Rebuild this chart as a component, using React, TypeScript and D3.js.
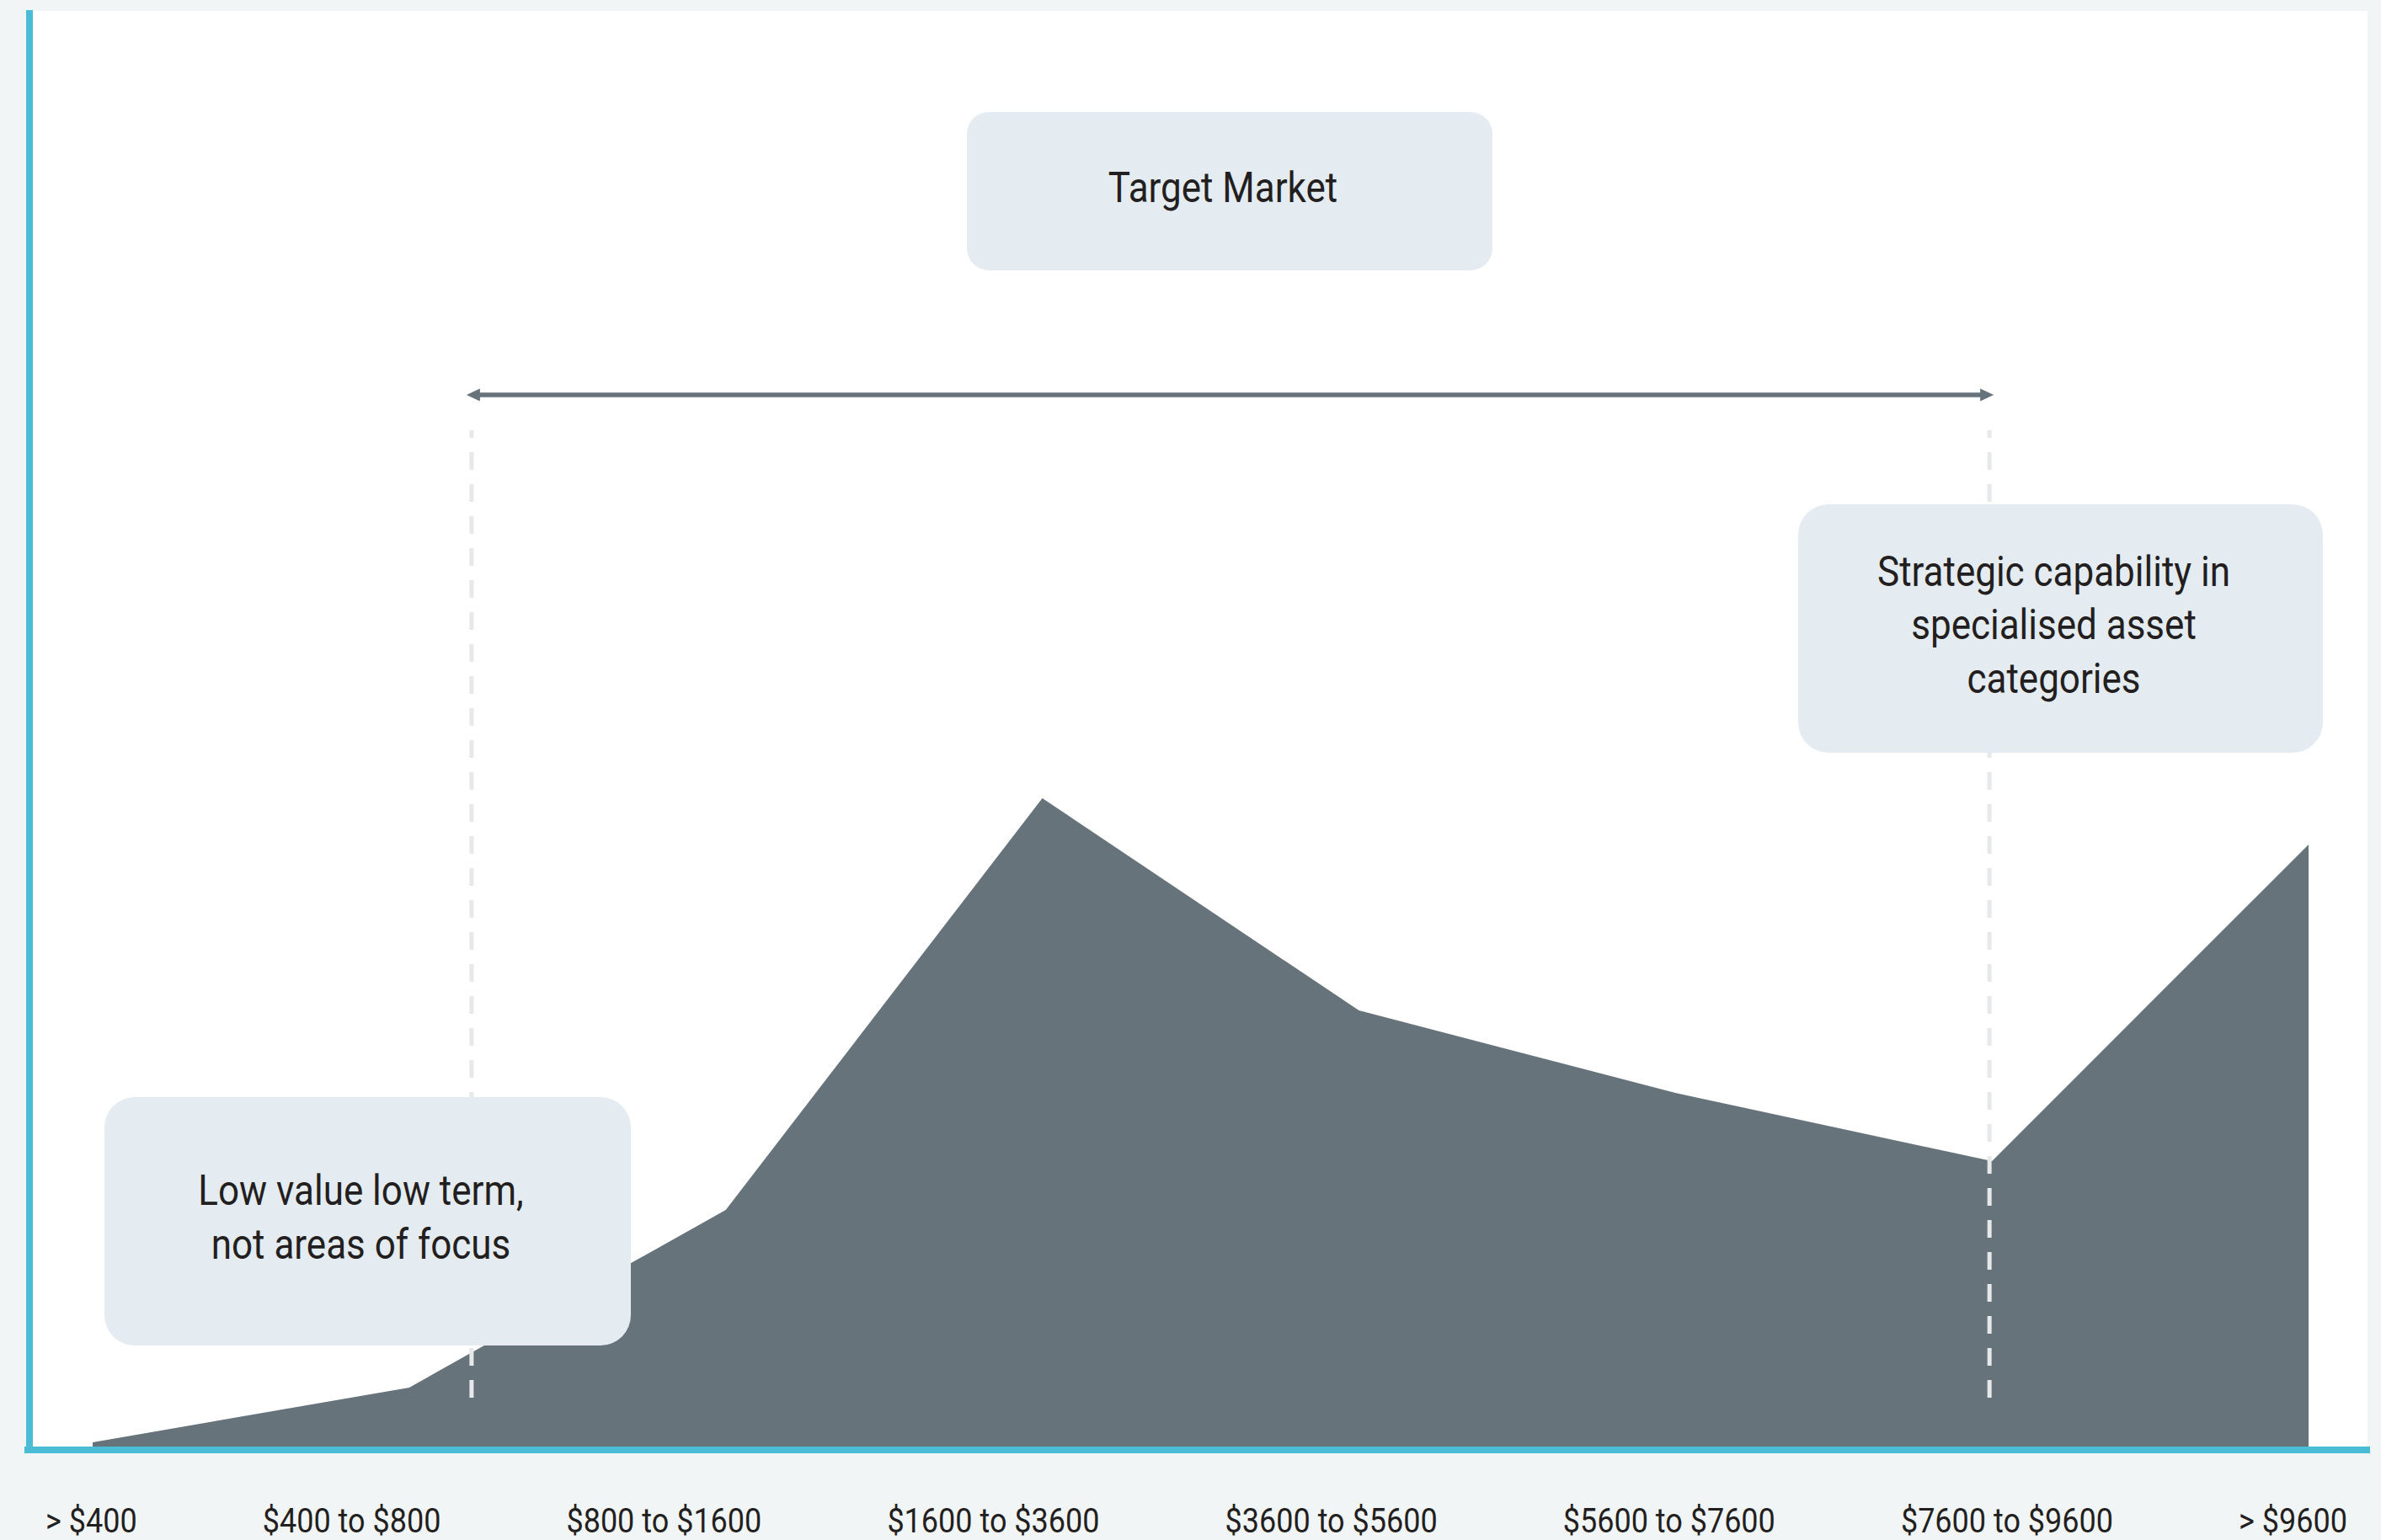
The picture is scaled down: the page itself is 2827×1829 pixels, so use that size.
import React, { useMemo } from "react";
import * as d3 from "d3";

// ---- data ----
const categories = [
  "> $400",
  "$400 to $800",
  "$800 to $1600",
  "$1600 to $3600",
  "$3600 to $5600",
  "$5600 to $7600",
  "$7600 to $9600",
  "> $9600",
];
const values = [0.5, 7, 28.1, 77, 51.8, 42, 33.9, 71.5];

const targetLabel = ["Target Market"];
const lowLabel = ["Low value low term,", "not areas of focus"];
const strategicLabel = ["Strategic capability in", "specialised asset", "categories"];

// ---- layout / style ----
const W = 2827;
const H = 1829;
const BG = "#f1f5f6";
const BLUE = "#4bbcd6";
const AREA = "#67737a";
const BOX = "#e4ebf1";
const TEXT = "#231f20";
const DASH = "#e6e8ea";
const FONT = "Roboto, 'Noto Sans', sans-serif";
const LABEL_SIZE = 40;
const LABEL_SQUEEZE = 0.9;
const BOX_SIZE = 50;
const BOX_SQUEEZE = 0.88;

function measure(text: string, font: string): number {
  if (typeof document === "undefined") return text.length * 20;
  const c = document.createElement("canvas");
  const ctx = c.getContext("2d");
  if (!ctx) return text.length * 20;
  ctx.font = font;
  return ctx.measureText(text).width;
}

function Callout({
  x0, y0, w, h, r, lines,
}: { x0: number; y0: number; w: number; h: number; r: number; lines: string[] }) {
  const cx = x0 + w / 2 - 8;
  const cy = y0 + h / 2;
  const lh = 63.5;
  return (
    <g>
      <rect x={x0} y={y0} width={w} height={h} rx={r} ry={r} fill={BOX} />
      {lines.map((t, i) => {
        const by = cy + 12.5 + (i - (lines.length - 1) / 2) * lh;
        return (
          <text
            key={i}
            transform={`translate(${cx},${by}) scale(${BOX_SQUEEZE},1)`}
            textAnchor="middle"
            fontFamily={FONT}
            fontSize={BOX_SIZE}
            fill={TEXT}
          >
            {t}
          </text>
        );
      })}
    </g>
  );
}

export default function App() {
  const x = d3.scalePoint<string>().domain(categories).range([110, 2741]);
  const y = d3.scaleLinear().domain([0, 100]).range([1718, 718]);

  const data = categories.map((c, i) => ({ c, v: values[i] }));
  const areaPath =
    d3
      .area<{ c: string; v: number }>()
      .x((d) => x(d.c) as number)
      .y0(y(0))
      .y1((d) => y(d.v))
      .curve(d3.curveLinear)(data) || "";

  const step = x.step();
  const leftMarker = (x(categories[1]) as number) + 0.197 * step;
  const rightMarker = (x(categories[6]) as number) - 3;

  const labelLayout = useMemo(() => {
    const font = `${LABEL_SIZE}px Roboto`;
    const widths = categories.map((c) => measure(c, font) * LABEL_SQUEEZE);
    const left = 54;
    const right = 2787;
    const total = widths.reduce((a, b) => a + b, 0);
    const gap = (right - left - total) / (categories.length - 1);
    let cur = left;
    return widths.map((w) => {
      const p = cur;
      cur += w + gap;
      return p;
    });
  }, []);

  const arrowY = 469;
  const arrowL = leftMarker - 6;
  const arrowR = rightMarker + 5;

  return (
    <svg
      width={W}
      height={H}
      style={{ position: "absolute", left: 0, top: 0, display: "block" }}
    >
      <rect x={0} y={0} width={W} height={H} fill={BG} />
      {/* plot panel */}
      <rect x={35} y={13} width={2776} height={1709} fill="#ffffff" />

      {/* area */}
      <path d={areaPath} fill={AREA} />

      {/* dashed markers */}
      {[leftMarker, rightMarker].map((mx, i) => (
        <line
          key={i}
          x1={mx}
          x2={mx}
          y1={511}
          y2={1677}
          stroke={DASH}
          strokeWidth={5}
          strokeDasharray="21 17"
          strokeDashoffset={12}
        />
      ))}

      {/* arrow */}
      <line
        x1={arrowL + 14}
        x2={arrowR - 14}
        y1={arrowY}
        y2={arrowY}
        stroke={AREA}
        strokeWidth={5.5}
      />
      <path
        d={`M${arrowL},${arrowY} L${arrowL + 16},${arrowY - 7.5} L${arrowL + 16},${arrowY + 7.5} Z`}
        fill={AREA}
      />
      <path
        d={`M${arrowR},${arrowY} L${arrowR - 16},${arrowY - 7.5} L${arrowR - 16},${arrowY + 7.5} Z`}
        fill={AREA}
      />

      {/* callouts */}
      <Callout x0={1148} y0={133} w={624} h={188} r={26} lines={targetLabel} />
      <Callout x0={2135} y0={599} w={623} h={295} r={36} lines={strategicLabel} />
      <Callout x0={124} y0={1303} w={625} h={295} r={36} lines={lowLabel} />

      {/* axes */}
      <rect x={31} y={12} width={8} height={1714} fill={BLUE} />
      <rect x={29} y={1718} width={2785} height={8} fill={BLUE} />

      {/* x labels */}
      {categories.map((c, i) => (
        <text
          key={c}
          transform={`translate(${labelLayout[i]},1820) scale(${LABEL_SQUEEZE},1)`}
          fontFamily={FONT}
          fontSize={LABEL_SIZE}
          fill={TEXT}
        >
          {c}
        </text>
      ))}
    </svg>
  );
}
